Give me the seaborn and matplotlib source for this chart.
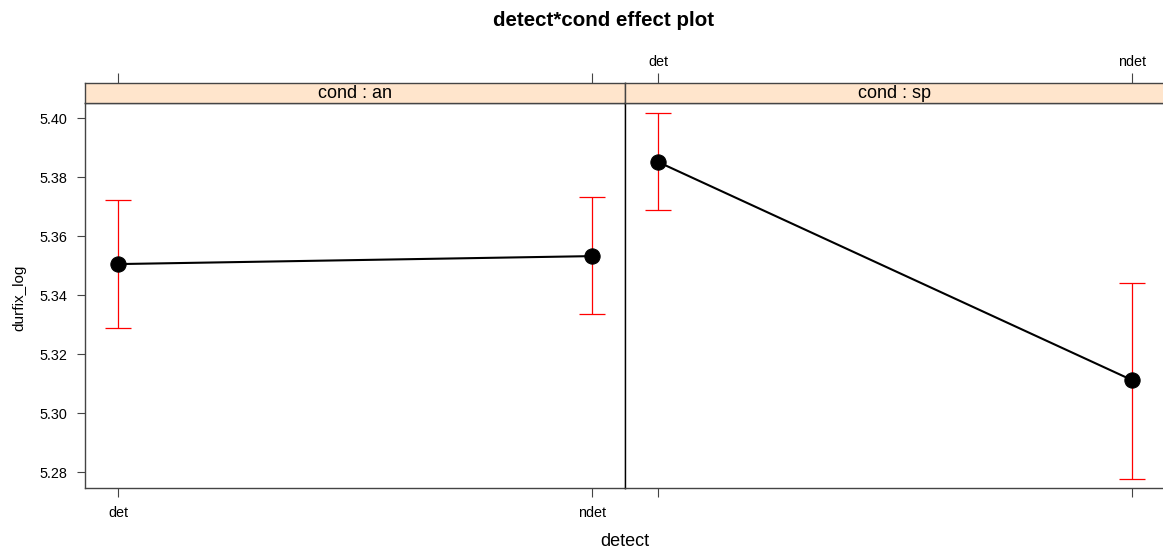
import matplotlib
matplotlib.use("Agg")
import matplotlib.pyplot as plt
import numpy as np
import pandas as pd
import seaborn as sns

# Effect estimates of durfix_log by detect within each cond, with 95% limits
conds = ["an", "sp"]
detect_levels = ["det", "ndet"]
fit_an = [5.3505, 5.3532]
lower_an = [5.3288, 5.3336]
upper_an = [5.3722, 5.3732]
fit_sp = [5.3851, 5.3112]
lower_sp = [5.3688, 5.2776]
upper_sp = [5.4017, 5.3441]
y_ticks = [5.28, 5.30, 5.32, 5.34, 5.36, 5.38, 5.40]

sns.set_theme(style="white")
plt.rcParams["font.family"] = ["Liberation Sans", "DejaVu Sans"]
plt.rcParams["text.color"] = "black"
plt.rcParams["xtick.color"] = "black"
plt.rcParams["ytick.color"] = "black"

df = pd.DataFrame({
    "cond": np.repeat(conds, len(detect_levels)),
    "detect": detect_levels * len(conds),
    "pos": list(range(len(detect_levels))) * len(conds),
    "fit": fit_an + fit_sp,
    "lower": lower_an + lower_sp,
    "upper": upper_an + upper_sp,
})

W, H = 1163, 550
fig = plt.figure(figsize=(W / 100, H / 100), dpi=100)

def fx(px):
    return px / W

def fy(py):
    return 1 - py / H

panel_w = 540
panel_l = [85, 625]
top_px, strip_top_px, bottom_px = 103, 83, 488

xlim = (-0.07, 1.07)
ylim = (5.2746, 5.4051)
frame_col = "#444444"
tick_fs = 10.4

for i, cond in enumerate(conds):
    sub = df[df["cond"] == cond]
    ax = fig.add_axes([fx(panel_l[i]), fy(bottom_px),
                       fx(panel_w), (bottom_px - top_px) / H])
    # strip above the panel
    sax = fig.add_axes([fx(panel_l[i]), fy(top_px),
                        fx(panel_w), (top_px - strip_top_px) / H])
    sax.set_facecolor("#ffe5cc")
    sax.set_xlim(xlim)
    sax.set_ylim(0, 1)
    sax.set_yticks([])
    sax.text(0.5, 0.47, f"cond : {cond}", transform=sax.transAxes,
             ha="center", va="center", fontsize=13, color="black")
    sax.xaxis.set_ticks_position("top")
    sax.set_xticks(range(len(detect_levels)))
    if i == 1:
        sax.set_xticklabels(detect_levels, fontsize=tick_fs)
    else:
        sax.set_xticklabels([])
    sax.tick_params(axis="x", direction="out", length=7, width=0.8,
                    color=frame_col, pad=3, top=True, bottom=False)
    for s in sax.spines.values():
        s.set_color(frame_col)
        s.set_linewidth(1.0)

    # confidence limits
    ax.errorbar(sub["pos"], sub["fit"],
                yerr=[sub["fit"] - sub["lower"], sub["upper"] - sub["fit"]],
                fmt="none", ecolor="red", elinewidth=0.9, capsize=9.7,
                capthick=0.9, zorder=2)
    # fitted effects
    sns.lineplot(data=sub, x="pos", y="fit", ax=ax, color="black",
                 linewidth=1.5, marker="o", markersize=11,
                 markeredgecolor="black", markerfacecolor="black",
                 sort=False, zorder=3)

    ax.set_xlim(xlim)
    ax.set_ylim(ylim)
    ax.set_xlabel("")
    ax.set_ylabel("")
    ax.set_xticks(range(len(detect_levels)))
    if i == 0:
        ax.set_xticklabels(detect_levels, fontsize=tick_fs)
        ax.set_yticks(y_ticks)
        ax.set_yticklabels([f"{v:.2f}" for v in y_ticks], fontsize=tick_fs)
        ax.tick_params(axis="y", direction="out", length=6, width=0.8,
                       color=frame_col, pad=6.5, left=True)
    else:
        ax.set_xticklabels([])
        ax.set_yticks([])
    ax.tick_params(axis="x", direction="out", length=6.5, width=0.8,
                   color=frame_col, pad=6.5, bottom=True)
    for name, s in ax.spines.items():
        s.set_color(frame_col)
        s.set_linewidth(1.0)
    if i == 1:
        ax.spines["left"].set_color("black")

fig.text(fx(604), fy(21), "detect*cond effect plot", ha="center", va="center",
         fontsize=14.8, fontweight="bold")
fig.text(fx(625), fy(542), "detect", ha="center", va="center", fontsize=13)
fig.text(fx(19), fy(298), "durfix_log", ha="center", va="center",
         rotation=90, fontsize=11)

fig.savefig("out.png", dpi=100)
